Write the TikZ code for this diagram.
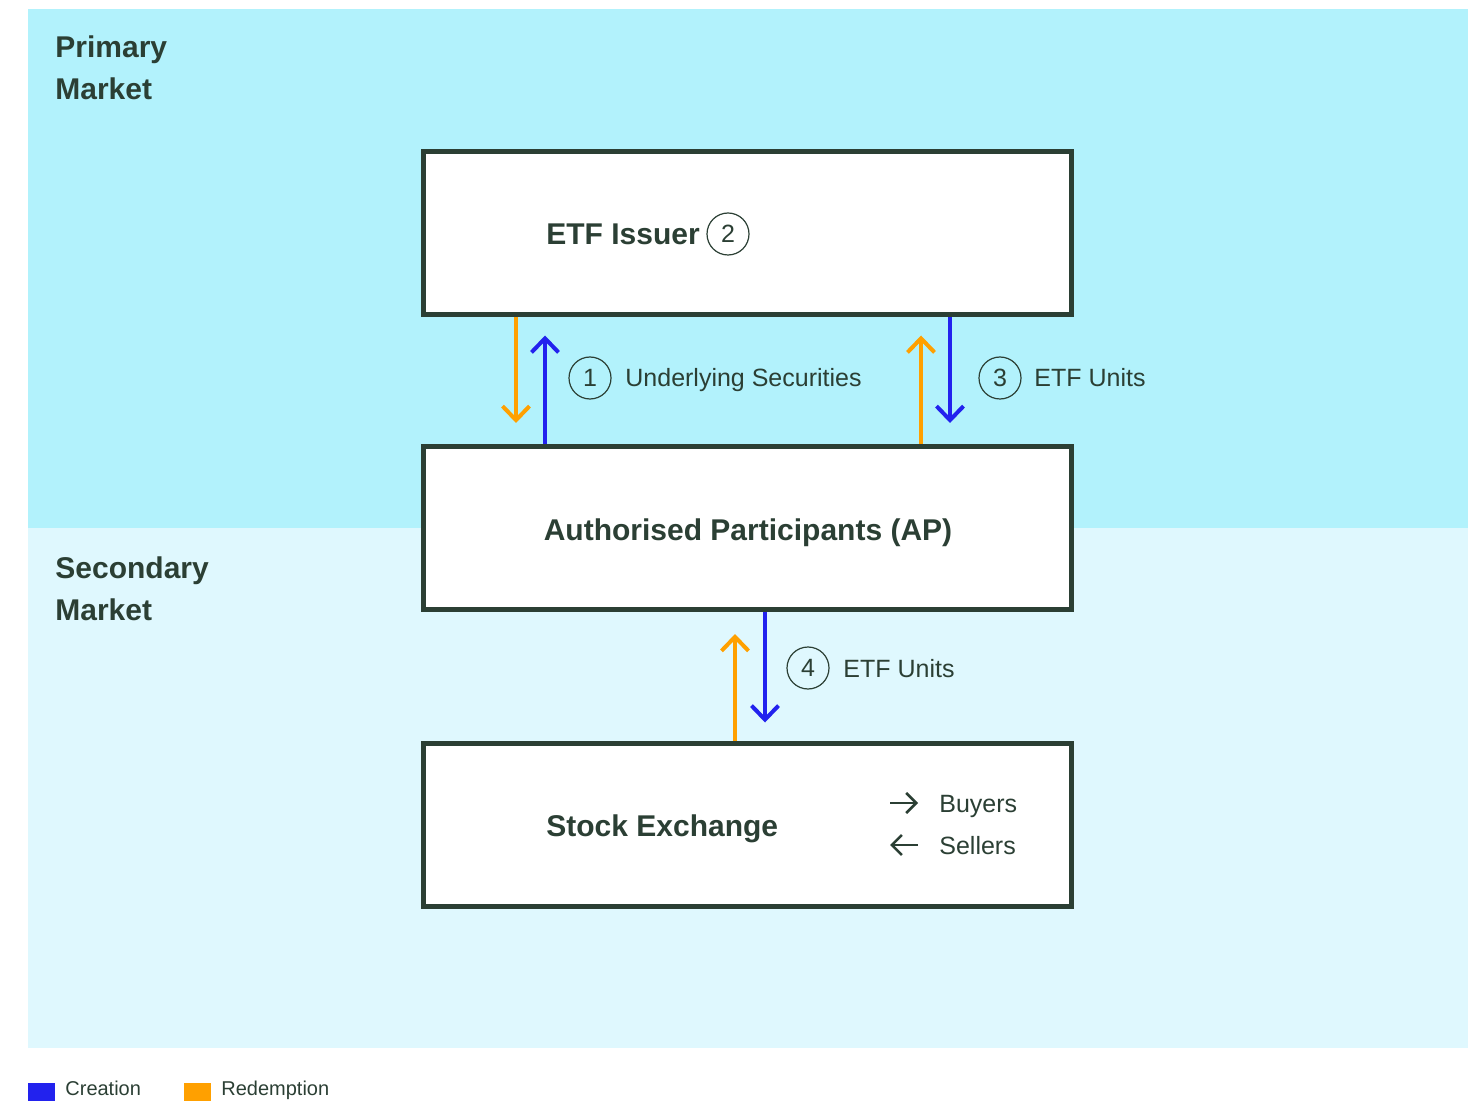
\documentclass[tikz,border=0pt]{standalone}
\usepackage{fontspec}
\setmainfont{Liberation Sans}
\usetikzlibrary{arrows.meta}

\definecolor{primarybg}{HTML}{B2F2FC}
\definecolor{secondarybg}{HTML}{DFF8FE}
\definecolor{ink}{HTML}{2B3F34}
\definecolor{creation}{HTML}{2222EE}
\definecolor{redemption}{HTML}{FFA000}

\tikzset{
  box/.style={draw=ink, line width=2.5pt, fill=white, minimum width=324pt, minimum height=81.5pt, inner sep=0pt},
  boxlabel/.style={text=ink, font=\fontsize{15}{21}\selectfont\bfseries, anchor=base west, inner sep=0pt},
  numcircle/.style={circle, draw=ink, line width=0.6pt, minimum size=21pt, inner sep=0pt, text=ink, font=\fontsize{12.5}{15}\selectfont},
  flowlabel/.style={text=ink, font=\fontsize{12.5}{15}\selectfont, anchor=base west, inner sep=0pt},
  flow/.style={line width=2pt, -{Straight Barb[length=7pt,width=13.5pt]}},
  creat/.style={flow, draw=creation},
  redeem/.style={flow, draw=redemption},
  tradearrow/.style={draw=ink, line width=1.3pt, -{Straight Barb[length=5pt,width=10pt]}},
}

\begin{document}
\begin{tikzpicture}[x=0.5pt, y=-0.5pt]
    \clip (0,0) rectangle (1483,1101);

    % Market bands
    \fill[primarybg] (28,9) rectangle (1468,528);
    \fill[secondarybg] (28,528) rectangle (1468,1048);

    \node[boxlabel, align=left] (primary) at (55,100) {Primary\\Market};
    \node[boxlabel, align=left] (secondary) at (55,620) {Secondary\\Market};

    % Entities
    \node[box] (issuer) at (747.5,233.5) {};
    \node[box] (ap) at (747.5,528) {};
    \node[box] (exchange) at (747.5,824.5) {};

    \node[boxlabel] (issuerlabel) at (546,245) {ETF Issuer};
    \node[numcircle] (two) at (728,234) {2};
    \node[boxlabel, anchor=base] (aplabel) at (748,540) {Authorised Participants (AP)};
    \node[boxlabel] (exchangelabel) at (546,836) {Stock Exchange};

    % Issuer <-> AP
    \coordinate (xa) at (516,0);
    \coordinate (xb) at (545,0);
    \coordinate (xc) at (921,0);
    \coordinate (xd) at (950,0);
    \draw[redeem, shorten >=10.5pt] (issuer.south -| xa) -- (ap.north -| xa);
    \draw[creat, shorten >=9pt] (ap.north -| xb) -- (issuer.south -| xb);
    \draw[redeem, shorten >=9pt] (ap.north -| xc) -- (issuer.south -| xc);
    \draw[creat, shorten >=10.5pt] (issuer.south -| xd) -- (ap.north -| xd);

    \node[numcircle] (one) at (590,378) {1};
    \node[flowlabel] (securities) at (625,387) {Underlying Securities};
    \node[numcircle] (three) at (1000,378) {3};
    \node[flowlabel] (unitsup) at (1034,387) {ETF Units};

    % AP <-> Exchange
    \coordinate (xe) at (735,0);
    \coordinate (xf) at (765,0);
    \draw[redeem, shorten >=11pt] (exchange.north -| xe) -- (ap.south -| xe);
    \draw[creat, shorten >=9pt] (ap.south -| xf) -- (exchange.north -| xf);

    \node[numcircle] (four) at (808,668) {4};
    \node[flowlabel] (unitsdown) at (843,677) {ETF Units};

    % Buyers and sellers
    \coordinate (buystart) at (890,803);
    \coordinate (sellstart) at (918,845);
    \draw[tradearrow] (buystart) -- ++(28,0);
    \draw[tradearrow] (sellstart) -- ++(-28,0);
    \node[flowlabel] (buyers) at (939,812) {Buyers};
    \node[flowlabel] (sellers) at (939,854) {Sellers};

    % Legend
    \fill[creation] (28,1083) rectangle (55,1101);
    \node[flowlabel, font=\fontsize{10}{12}\selectfont] (creationkey) at (65,1095) {Creation};
    \fill[redemption] (184,1083) rectangle (211,1101);
    \node[flowlabel, font=\fontsize{10}{12}\selectfont] (redemptionkey) at (221,1095) {Redemption};
\end{tikzpicture}
\end{document}
